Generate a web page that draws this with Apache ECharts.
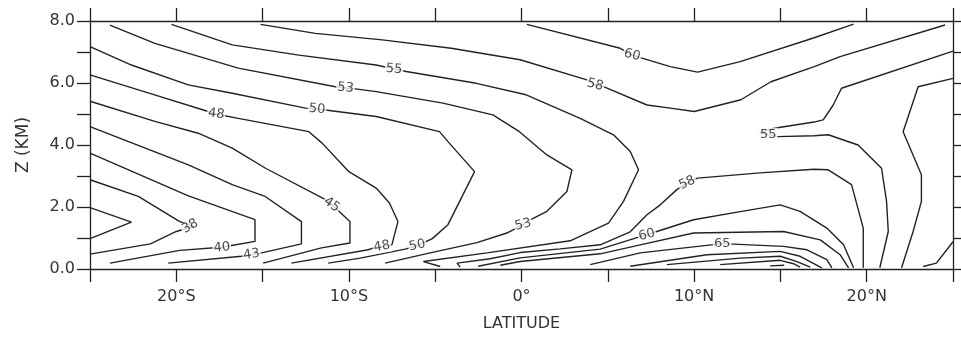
<!DOCTYPE html>
<html><head><meta charset="utf-8">
<script src="https://cdn.jsdelivr.net/npm/echarts@6/dist/echarts.min.js"></script>
<style>html,body{margin:0;padding:0;background:#fff}#c{width:961px;height:340px}</style>
</head><body><div id="c"></div>
<script>
// ---- tick labels ----
const xTicks = [-20, -10, 0, 10, 20];
const xTickText = ['20°S', '10°S', '0°', '10°N', '20°N'];
const yTicks = [0, 2, 4, 6, 8];
const yTickText = ['0.0', '2.0', '4.0', '6.0', '8.0'];

// ---- contour lines: [latitude (deg, S negative), height (km)] ----
const c35 = [[-25,1.98],[-22.6,1.51],[-25,0.98]];
const c38 = [[-25,2.88],[-22.2,2.34],[-19.8,1.53],[-19.0,1.38],[-20.0,1.21],[-21.5,0.81],[-25,0.48]];
const c40 = [[-25,3.74],[-19.3,2.36],[-15.44,1.59],[-15.44,0.89],[-16.8,0.76],[-17.4,0.70],[-19.8,0.60],[-23.84,0.19]];
const c43 = [[-25,4.59],[-19.3,3.36],[-16.76,2.72],[-14.85,2.34],[-12.75,1.53],[-12.75,0.81],[-15.06,0.52],[-15.6,0.47],[-16.22,0.41],[-20.47,0.19]];
const c45 = [[-25,5.41],[-21.24,4.76],[-18.73,4.38],[-16.76,3.90],[-14.83,3.25],[-11.16,2.18],[-11.0,2.08],[-9.94,1.53],[-9.94,0.84],[-11.59,0.68],[-14.97,0.19]];
const c48 = [[-25,6.26],[-21.63,5.68],[-18.15,5.08],[-17.7,5.0],[-16.41,4.86],[-12.32,4.43],[-11.55,4.06],[-10.0,3.14],[-8.42,2.61],[-7.65,2.13],[-7.16,1.53],[-7.51,0.78],[-8.09,0.73],[-8.57,0.68],[-8.88,0.62],[-13.33,0.19]];
const c50 = [[-25,7.17],[-22.6,6.58],[-19.31,5.94],[-16.76,5.67],[-12.51,5.19],[-11.84,5.16],[-11.36,5.13],[-8.42,4.92],[-4.75,4.43],[-4.26,4.11],[-2.72,3.14],[-4.26,1.43],[-5.17,0.98],[-6.04,0.75],[-6.74,0.64],[-9.34,0.35],[-11.2,0.19]];
const c50r = [[23.27,0.08],[24.04,0.19],[25,0.88]];
const c53 = [[-23.85,7.87],[-21.24,7.28],[-16.41,6.48],[-10.78,5.88],[-10.2,5.84],[-9.62,5.81],[-8.42,5.72],[-4.55,5.35],[-1.66,4.97],[-0.12,4.43],[1.47,3.68],[2.92,3.2],[2.63,2.5],[1.47,1.86],[0.31,1.53],[0.1,1.43],[-0.85,1.16],[-2.58,0.85],[-5.29,0.52],[-7.9,0.19]];
const c53r = [[25,6.15],[22.98,5.88],[22.11,4.43],[23.17,3.04],[23.17,2.18],[22.69,1.21],[22.02,0.04]];
const c55 = [[-20.28,7.89],[-16.76,7.23],[-12.9,6.9],[-8.42,6.58],[-7.38,6.45],[-6.68,6.37],[-2.62,5.99],[0.27,5.62],[3.4,4.86],[5.33,4.33],[6.3,3.79],[6.78,3.2],[5.91,2.18],[5.04,1.48],[2.82,0.91],[-2.0,0.52],[-5.68,0.24],[-4.71,0.08]];
const c55r = [[25,7.03],[18.54,5.83],[18.06,5.29],[17.48,4.81],[16.95,4.74],[14.64,4.54],[13.8,4.4],[14.83,4.27],[16.95,4.3],[17.77,4.33],[19.5,4.0],[20.86,3.25],[21.15,2.18],[21.25,1.21],[20.76,0.04]];
const c58 = [[-15.12,7.89],[-11.94,7.6],[-8.07,7.39],[-4.07,7.12],[-0.08,6.75],[3.79,6.1],[4.27,5.94],[4.75,5.88],[7.27,5.29],[8.62,5.19],[10.01,5.08],[12.71,5.46],[14.45,6.04],[16.96,6.53],[18.46,6.85],[24.54,7.87]];
const c58b = [[-3.55,0.06],[-3.74,0.19],[-1.81,0.33],[-0.08,0.53],[2.24,0.65],[4.56,0.78],[6.3,1.2],[7.27,1.75],[8.04,2.07],[9.0,2.56],[9.6,2.78],[10.2,2.93],[13.82,3.1],[16.95,3.22],[17.77,3.2],[19.12,2.72],[19.8,1.32],[19.8,0.04]];
const c60 = [[0.31,7.89],[5.72,7.12],[6.41,6.9],[6.98,6.8],[8.62,6.53],[10.2,6.35],[12.67,6.69],[16.96,7.46],[19.24,7.9]];
const c60b = [[-2.51,0.09],[-0.08,0.36],[4.56,0.64],[6.69,1.01],[7.27,1.1],[7.84,1.21],[9.97,1.59],[12.67,1.85],[14.99,2.07],[16.14,1.86],[17.69,1.32],[18.66,0.78],[19.24,0.04]];
const c63 = [[-1.23,0.12],[-0.08,0.24],[4.56,0.49],[6.88,0.78],[9.97,1.16],[15.18,1.21],[17.31,0.94],[18.46,0.46],[18.95,0.04]];
const c65 = [[3.98,0.14],[6.88,0.52],[11.63,0.82],[15.18,0.73],[16.54,0.62],[17.69,0.3],[17.98,0.04]];
const c68 = [[6.3,0.09],[10.74,0.46],[14.99,0.57],[16.14,0.41],[17.4,0.04]];
const c70 = [[8.42,0.14],[12.67,0.35],[14.99,0.41],[15.96,0.24],[16.73,0.06]];
const c73 = [[11.51,0.14],[14.99,0.28],[15.76,0.17],[16.14,0.06]];
const c75 = [[14.4,0.10],[15.22,0.12]];

// ---- contour labels ----
const labelText = ['38','40','43','45','48','48','50','50','53','53','55','55','58','58','60','60','65'];
const labelLat  = [-19.2,-17.36,-15.64,-11.0,-17.69,-8.09,-11.84,-6.04,-10.2,0.1,-7.38,14.3,4.27,9.6,6.41,7.27,11.63];
const labelZ    = [1.38,0.69,0.47,2.07,5.0,0.73,5.16,0.76,5.84,1.43,6.45,4.35,5.94,2.78,6.9,1.1,0.82];

// label tilt (style)
const labelTilt = [30,5,8,-35,-8,10,-5,12,-5,15,-5,0,-15,25,-15,15,0];

const lines = [c35,c38,c40,c43,c45,c48,c50,c50r,c53,c53r,c55,c55r,c58,c58b,c60,c60b,c63,c65,c68,c70,c73,c75];

const FONT = '"DejaVu Sans", Verdana, sans-serif';
const INK = '#222';

const series = lines.map(pts => ({
  type: 'line', data: pts, showSymbol: false, symbol: 'none', silent: true,
  lineStyle: { color: INK, width: 1.4 }, z: 2
}));
series.push({
  type: 'scatter', symbolSize: 0.1, silent: true, z: 5,
  itemStyle: { color: 'rgba(0,0,0,0)' },
  data: labelText.map((t, i) => ({
    value: [labelLat[i], labelZ[i]], name: t,
    label: { rotate: labelTilt[i] }
  })),
  label: {
    show: true, position: 'inside', formatter: p => p.name,
    fontSize: 13, fontFamily: FONT, color: '#1a1a1a',
    backgroundColor: '#fff', padding: [0, 1]
  }
});

const axisLineStyle = { color: INK, width: 1.3 };
const chart = echarts.init(document.getElementById('c'), null, { renderer: 'canvas' });
chart.setOption({
  animation: false,
  backgroundColor: '#fff',
  grid: { left: 90, right: 8, top: 21, bottom: 71 },
  xAxis: [{
    type: 'value', min: -25, max: 25, interval: 5, position: 'bottom',
    axisLine: { show: true, onZero: false, lineStyle: axisLineStyle },
    axisTick: { show: true, length: 13, lineStyle: axisLineStyle },
    axisLabel: { margin: 20, color: '#333', fontSize: 16, fontFamily: FONT,
      formatter: v => { const i = xTicks.indexOf(v); return i >= 0 ? xTickText[i] : ''; } },
    splitLine: { show: false },
    name: 'LATITUDE', nameLocation: 'middle', nameGap: 47,
    nameTextStyle: { color: '#333', fontSize: 16, fontFamily: FONT }
  }, {
    type: 'value', min: -25, max: 25, interval: 5, position: 'top',
    axisLine: { show: true, onZero: false, lineStyle: axisLineStyle },
    axisTick: { show: true, length: 13, lineStyle: axisLineStyle },
    axisLabel: { show: false }, splitLine: { show: false }
  }],
  yAxis: [{
    type: 'value', min: 0, max: 8, interval: 1, position: 'left',
    axisLine: { show: true, onZero: false, lineStyle: axisLineStyle },
    axisTick: { show: true, length: 13, lineStyle: axisLineStyle },
    axisLabel: { margin: 15, color: '#333', fontSize: 16, fontFamily: FONT,
      formatter: v => { const i = yTicks.indexOf(v); return i >= 0 ? yTickText[i] : ''; } },
    splitLine: { show: false },
    name: 'Z (KM)', nameLocation: 'middle', nameGap: 58, nameRotate: 90,
    nameTextStyle: { color: '#333', fontSize: 17, fontFamily: FONT }
  }, {
    type: 'value', min: 0, max: 8, interval: 1, position: 'right',
    axisLine: { show: true, onZero: false, lineStyle: axisLineStyle },
    axisTick: { show: true, length: 8, lineStyle: axisLineStyle },
    axisLabel: { show: false }, splitLine: { show: false }
  }],
  series: series
});
</script></body></html>
